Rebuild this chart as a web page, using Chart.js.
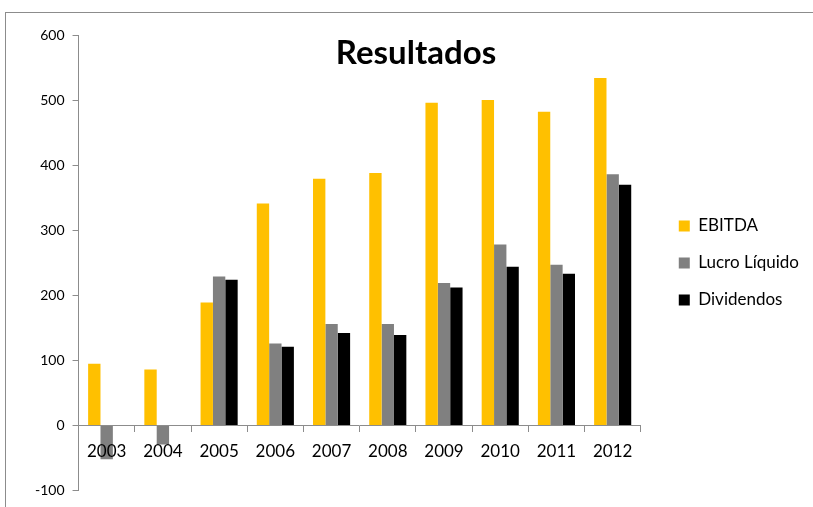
<!DOCTYPE html>
<html>
<head>
<meta charset="utf-8">
<script src="https://cdn.jsdelivr.net/npm/chart.js@4"></script>
<style>
  html, body { margin: 0; padding: 0; background: #fff; overflow: hidden; }
  #wrap { position: relative; width: 813px; height: 507px; }
  #frame { position: absolute; left: 5px; top: 12px; width: 900px; height: 600px; border: 1px solid #8c8c8c; }
  canvas { position: absolute; left: 0; top: 0; }
</style>
</head>
<body>
<div id="wrap">
  <div id="frame"></div>
  <canvas id="grafico" width="813" height="507"></canvas>
</div>
<script>
// --- DATOS ---
const anos = ["2003", "2004", "2005", "2006", "2007", "2008", "2009", "2010", "2011", "2012"];
const ebitda = [95, 86, 189, 341, 379, 388, 496, 500, 482, 534];
const lucroLiquido = [-52, -29, 229, 126, 156, 156, 219, 278, 247, 386];
const dividendos = [null, null, 224, 121, 142, 139, 212, 244, 233, 370];
const titulo = "Resultados";

const FUENTE = "Lato, 'Open Sans', sans-serif";

// titulo dibujado encima del area del grafico (como en Excel)
const tituloPlugin = {
  id: "tituloInterno",
  afterDraw(chart) {
    const { ctx, chartArea } = chart;
    ctx.save();
    ctx.font = "bold 33px " + FUENTE;
    ctx.fillStyle = "#000";
    ctx.textAlign = "center";
    ctx.textBaseline = "middle";
    ctx.fillText(titulo, 416, chartArea.top + 18);
    ctx.restore();
  }
};

new Chart(document.getElementById("grafico").getContext("2d"), {
  type: "bar",
  data: {
    labels: anos,
    datasets: [
      { label: "EBITDA", data: ebitda, backgroundColor: "#FFC000" },
      { label: "Lucro Líquido", data: lucroLiquido, backgroundColor: "#808080" },
      { label: "Dividendos", data: dividendos, backgroundColor: "#000000" },
    ],
  },
  options: {
    responsive: false,
    animation: false,
    datasets: { bar: { categoryPercentage: 0.66, barPercentage: 1 } },
    layout: { padding: { left: 27, top: 35, bottom: 16, right: 4 } },
    plugins: {
      legend: {
        position: "right",
        labels: {
          boxWidth: 11, boxHeight: 11, padding: 20,
          color: "#000",
          font: { family: FUENTE, size: 17 },
        },
      },
      tooltip: { enabled: false },
    },
    scales: {
      x: {
        position: { y: 0 },
        offset: true,
        grid: { drawOnChartArea: false, offset: true, tickLength: 6, color: "#8c8c8c" },
        border: { color: "#8c8c8c" },
        ticks: { z: 1, color: "#000", padding: 10, font: { family: FUENTE, size: 17 } },
      },
      y: {
        min: -100, max: 600,
        ticks: { stepSize: 100, color: "#000", padding: 8, font: { family: FUENTE, size: 14 } },
        grid: { drawOnChartArea: false, tickLength: 6, color: "#8c8c8c" },
        border: { color: "#8c8c8c" },
      },
      // eje oculto: solo separa el area del grafico de la leyenda
      hueco: {
        position: "right",
        display: false,
        afterFit(s) { s.width = 18; },
      },
    },
  },
  plugins: [tituloPlugin],
});
</script>
</body>
</html>
